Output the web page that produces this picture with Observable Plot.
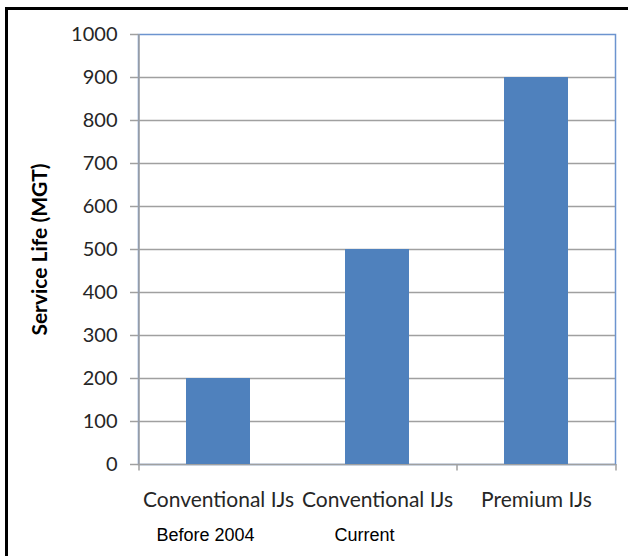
<!DOCTYPE html>
<html>
<head>
<meta charset="utf-8">
<script src="https://cdn.jsdelivr.net/npm/d3@7"></script>
<script src="https://cdn.jsdelivr.net/npm/@observablehq/plot@0.6"></script>
<style>
  html, body { margin: 0; padding: 0; background: #fff; }
  #wrap { position: relative; width: 628px; height: 556px; overflow: hidden; }
  #frame { position: absolute; left: 5px; top: 7px; width: 700px; height: 700px;
           border-left: 3px solid #000; border-top: 3px solid #000; pointer-events: none; }
</style>
</head>
<body>
<div id="wrap"><div id="frame"></div></div>
<script>
const categories = ["Conventional IJs", "Conventional IJs ", "Premium IJs"];
const subLabels = ["Before 2004", "Current", ""];
const serviceLife = [200, 500, 900];
const yTicks = [0, 100, 200, 300, 400, 500, 600, 700, 800, 900, 1000];

const data = categories.map((c, i) => ({cat: c, sub: subLabels[i], value: serviceLife[i]}));
const calibri = "Lato, 'Open Sans', sans-serif";
const blue = "#4F81BD";
const edgeBlue = "#6C94CF";
const grid = "#A0A0A0";

const step = (628 - 138 - 13) / categories.length;

const chart = Plot.plot({
  width: 628,
  height: 556,
  marginLeft: 138,
  marginRight: 13,
  marginTop: 34,
  marginBottom: 92,
  style: {fontFamily: calibri, background: "transparent", overflow: "visible"},
  x: {domain: categories, paddingInner: 0.6, paddingOuter: 0.3, axis: null},
  y: {domain: [0, 1000], axis: null},
  marks: [
    Plot.ruleY(yTicks.filter(d => d > 0 && d < 1000), {stroke: grid, strokeWidth: 1.3}),
    Plot.frame({stroke: edgeBlue, strokeWidth: 1.5}),
    Plot.ruleY([0], {stroke: grid, strokeWidth: 1.5}),
    Plot.ruleX([categories[0]], {dx: -step / 2, y1: 0, y2: 1000, stroke: grid, strokeWidth: 1.5}),
    Plot.barY(data, {x: "cat", y: "value", fill: blue}),
    Plot.axisY({ticks: yTicks, tickSize: 8, tickPadding: 13, stroke: grid, strokeWidth: 1.5,
                fill: "#262626", fontSize: 20, tickFormat: d => String(d), label: null}),
    Plot.ruleX([categories[0], categories[2]], {dx: -step / 2, y1: 0, y2: -15, stroke: grid, strokeWidth: 1.5}),
    Plot.ruleX([categories[2]], {dx: step / 2, y1: 0, y2: -15, stroke: grid, strokeWidth: 1.5}),
    Plot.text(data, {x: "cat", y: 0, text: d => d.cat.trim(), dy: 36, fontSize: 21, fill: "#262626"}),
    Plot.text(data, {x: "cat", y: 0, text: "sub", dy: 71, dx: -13, fontSize: 18,
                     fontFamily: "'Liberation Sans', Arial, sans-serif", fill: "#000"}),
    Plot.text(["Service Life (MGT)"], {frameAnchor: "left", textAnchor: "middle", rotate: -90, dx: -98,
                     fontSize: 21, fontWeight: "bold", fill: "#000"})
  ]
});
chart.style.position = "absolute";
chart.style.left = "0px";
chart.style.top = "0px";
document.getElementById("wrap").prepend(chart);
</script>
</body>
</html>
